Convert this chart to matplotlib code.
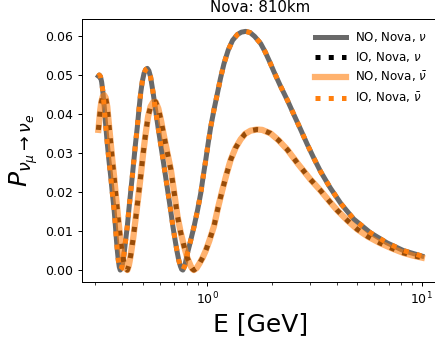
import numpy as np
import matplotlib
matplotlib.use("Agg")
import matplotlib.pyplot as plt

# energies [GeV] and probabilities
e_no_nu = [0.310, 0.313, 0.317, 0.321, 0.325, 0.330, 0.335, 0.341, 0.347, 0.354,
           0.360, 0.367, 0.372, 0.376, 0.380, 0.384, 0.388, 0.392, 0.396, 0.400,
           0.404, 0.408, 0.415, 0.423, 0.430, 0.438, 0.446, 0.454, 0.462, 0.471,
           0.479, 0.488, 0.497, 0.506, 0.515, 0.524, 0.533, 0.543, 0.557, 0.573,
           0.588, 0.604, 0.621, 0.638, 0.655, 0.673, 0.690, 0.710, 0.723, 0.735,
           0.748, 0.758, 0.768, 0.785, 0.804, 0.830, 0.867, 0.900, 0.931, 0.955,
           0.982, 1.008, 1.036, 1.072, 1.113, 1.150, 1.194, 1.250, 1.310, 1.380,
           1.440, 1.507, 1.580, 1.660, 1.770, 1.860, 1.950, 2.040, 2.180, 2.360,
           2.530, 2.720, 2.920, 3.130, 3.370, 3.740, 4.200, 4.810, 5.750, 6.870,
           8.210, 10.00]
p_no_nu = [0.0498, 0.0501, 0.0497, 0.0483, 0.0460, 0.0420, 0.0375, 0.0326, 0.0283, 0.0240,
           0.0198, 0.0155, 0.0115, 0.0080, 0.0050, 0.0025, 0.0008, 0.0000, 0.0003, 0.0012,
           0.0024, 0.0040, 0.0075, 0.0113, 0.0155, 0.0198, 0.0240, 0.0283, 0.0326, 0.0368,
           0.0411, 0.0454, 0.0485, 0.0505, 0.0515, 0.0518, 0.0512, 0.0496, 0.0458, 0.0411,
           0.0368, 0.0326, 0.0283, 0.0240, 0.0198, 0.0155, 0.0112, 0.0070, 0.0045, 0.0025,
           0.0010, 0.0002, 0.0000, 0.0012, 0.0040, 0.0070, 0.0113, 0.0155, 0.0198, 0.0240,
           0.0283, 0.0326, 0.0368, 0.0411, 0.0454, 0.0492, 0.0530, 0.0565, 0.0590, 0.0605,
           0.0611, 0.0613, 0.0610, 0.0600, 0.0582, 0.0560, 0.0535, 0.0510, 0.0475, 0.0436,
           0.0399, 0.0361, 0.0323, 0.0288, 0.0253, 0.0211, 0.0170, 0.0131, 0.0096, 0.0070,
           0.0050, 0.0036]

e_no_nubar = [0.310, 0.313, 0.316, 0.320, 0.325, 0.330, 0.335, 0.341, 0.347, 0.354,
              0.360, 0.367, 0.373, 0.380, 0.387, 0.394, 0.401, 0.408, 0.415, 0.423,
              0.430, 0.438, 0.450, 0.462, 0.475, 0.488, 0.501, 0.515, 0.529, 0.543,
              0.558, 0.573, 0.590, 0.607, 0.623, 0.640, 0.657, 0.675, 0.700, 0.725,
              0.750, 0.778, 0.805, 0.836, 0.850, 0.864, 0.890, 0.920, 0.950, 0.982,
              1.020, 1.073, 1.120, 1.174, 1.230, 1.283, 1.350, 1.429, 1.500, 1.589,
              1.700, 1.800, 1.970, 2.150, 2.360, 2.650, 3.020, 3.370, 3.740, 4.020,
              4.500, 4.990, 5.600, 6.400, 7.300, 8.210, 9.100, 10.00]
p_no_nubar = [0.0360, 0.0385, 0.0410, 0.0432, 0.0446, 0.0449, 0.0443, 0.0420, 0.0375, 0.0326,
              0.0283, 0.0240, 0.0198, 0.0155, 0.0112, 0.0070, 0.0040, 0.0019, 0.0005, 0.0000,
              0.0012, 0.0036, 0.0080, 0.0130, 0.0185, 0.0240, 0.0298, 0.0351, 0.0395, 0.0420,
              0.0431, 0.0432, 0.0415, 0.0385, 0.0352, 0.0320, 0.0289, 0.0258, 0.0198, 0.0138,
              0.0097, 0.0061, 0.0032, 0.0010, 0.0003, 0.0000, 0.0005, 0.0018, 0.0032, 0.0050,
              0.0075, 0.0113, 0.0160, 0.0206, 0.0248, 0.0283, 0.0313, 0.0336, 0.0350, 0.0358,
              0.0361, 0.0360, 0.0351, 0.0333, 0.0309, 0.0272, 0.0233, 0.0204, 0.0174, 0.0154,
              0.0127, 0.0105, 0.0086, 0.0069, 0.0055, 0.0044, 0.0037, 0.0032]

# inverted ordering: nu under IO looks like nubar under NO and vice versa
e_io_nu, p_io_nu = list(e_no_nubar), list(p_no_nubar)
e_io_nubar, p_io_nubar = list(e_no_nu), list(p_no_nu)

fig = plt.figure(figsize=(435 / 90, 341 / 90), dpi=90)
ax = fig.add_axes([0.189, 0.173, 0.818, 0.770])

ax.plot(e_no_nu, p_no_nu, color='dimgray', lw=4, label=r'NO, Nova, $\nu$')
ax.plot(e_io_nu, p_io_nu, color='k', ls=':', lw=4, label=r'IO, Nova, $\nu$')
ax.plot(e_no_nubar, p_no_nubar, color='C1', alpha=0.6, lw=5, label=r'NO, Nova, $\bar{\nu}$')
ax.plot(e_io_nubar, p_io_nubar, color='C1', ls=':', lw=4, label=r'IO, Nova, $\bar{\nu}$')

ax.set_xscale('log')
ax.set_title('Nova: 810km', fontsize=12)
ax.set_xlabel('E [GeV]', fontsize=20)
ax.set_ylabel(r'$P_{\nu_\mu\rightarrow\nu_e}$', fontsize=20)
ax.legend(loc='upper right', frameon=False, fontsize=9.5, handlelength=2.6)

fig.savefig('out.png', dpi=90)
